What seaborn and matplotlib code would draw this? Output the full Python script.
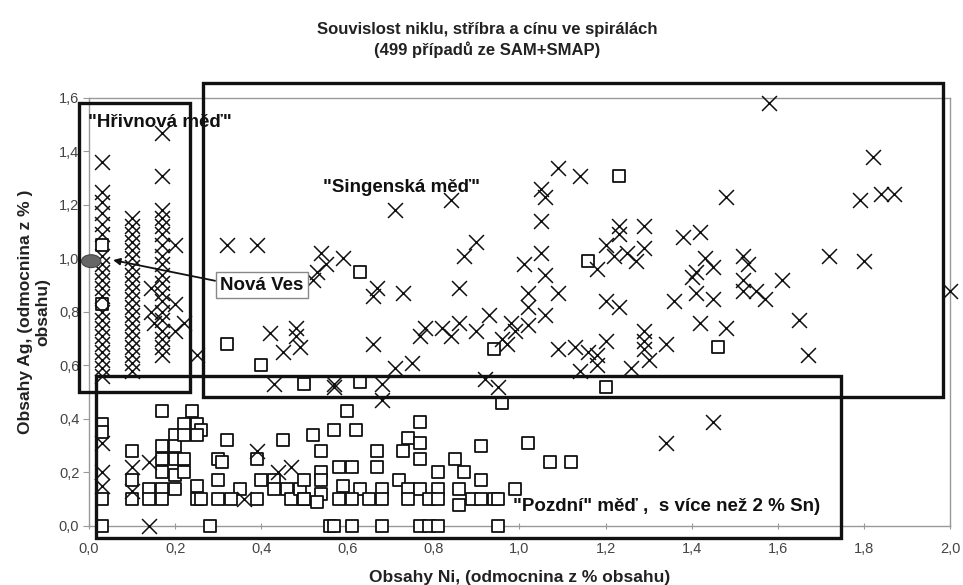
import matplotlib
matplotlib.use("Agg")
import matplotlib.pyplot as plt
from matplotlib.patches import Rectangle, Ellipse
import seaborn as sns
import pandas as pd

# hodnoty (odmocnina z % obsahu)
krizky = [
    # sloupce "Hrivnova med"
    (0.03, 1.36), (0.03, 1.25), (0.03, 1.21), (0.03, 1.17), (0.03, 1.13), (0.03, 1.09),
    (0.03, 1.01), (0.03, 0.98), (0.03, 0.95), (0.03, 0.92), (0.03, 0.89), (0.03, 0.86),
    (0.03, 0.80), (0.03, 0.77), (0.03, 0.74), (0.03, 0.71), (0.03, 0.68), (0.03, 0.65),
    (0.03, 0.62), (0.03, 0.59), (0.03, 0.56),
    (0.10, 1.15), (0.10, 1.12), (0.10, 1.09), (0.10, 1.06), (0.10, 1.03), (0.10, 1.00),
    (0.10, 0.97), (0.10, 0.94), (0.10, 0.91), (0.10, 0.88), (0.10, 0.85), (0.10, 0.82),
    (0.10, 0.79), (0.10, 0.76), (0.10, 0.73), (0.10, 0.70), (0.10, 0.67), (0.10, 0.64),
    (0.10, 0.61), (0.10, 0.58),
    (0.17, 1.47), (0.17, 1.31), (0.17, 1.18), (0.17, 1.15), (0.17, 1.12), (0.17, 1.09),
    (0.17, 1.05), (0.17, 1.01), (0.17, 0.98), (0.17, 0.94), (0.17, 0.91), (0.17, 0.87),
    (0.17, 0.84), (0.17, 0.80), (0.17, 0.77), (0.17, 0.73), (0.17, 0.70), (0.17, 0.67),
    (0.17, 0.64),
    (0.20, 1.05), (0.20, 0.83), (0.20, 0.73), (0.145, 0.89), (0.145, 0.80), (0.15, 0.76),
    (0.22, 0.76), (0.25, 0.64),
    # "Singenska med"
    (0.32, 1.05), (0.39, 1.05), (0.71, 1.18), (0.54, 1.02), (0.59, 1.00), (0.55, 0.98),
    (0.53, 0.95), (0.52, 0.92), (0.67, 0.89), (0.66, 0.86), (0.73, 0.87), (0.87, 1.01),
    (0.86, 0.89), (0.90, 1.06), (0.84, 1.22),
    (0.42, 0.72), (0.45, 0.65), (0.48, 0.74), (0.48, 0.71), (0.49, 0.67), (0.66, 0.68),
    (0.71, 0.59), (0.75, 0.61), (0.78, 0.74), (0.77, 0.71), (0.82, 0.74), (0.84, 0.71),
    (0.86, 0.76), (0.90, 0.73),
    (0.43, 0.53), (0.57, 0.53), (0.68, 0.53), (0.68, 0.47), (0.57, 0.52), (0.95, 0.52),
    (0.92, 0.55),
    (1.09, 1.34), (1.14, 1.31), (1.48, 1.23), (1.05, 1.26), (1.06, 1.23), (1.05, 1.14),
    (1.05, 1.02), (1.01, 0.98), (1.06, 0.94), (1.09, 0.87), (1.02, 0.87), (1.02, 0.82),
    (0.93, 0.79), (0.98, 0.76), (0.99, 0.73), (1.02, 0.75), (1.06, 0.79), (0.97, 0.68),
    (0.96, 0.70),
    (1.09, 0.66), (1.13, 0.67), (1.16, 0.65), (1.18, 0.64), (1.20, 0.69), (1.14, 0.58),
    (1.18, 0.60), (1.26, 0.59), (1.29, 0.73), (1.29, 0.69), (1.29, 0.66), (1.30, 0.62),
    (1.34, 0.68),
    (1.18, 0.96), (1.20, 1.05), (1.23, 1.12), (1.29, 1.12), (1.23, 1.09), (1.22, 1.01),
    (1.25, 1.02), (1.29, 1.04), (1.27, 0.99), (1.20, 0.84), (1.23, 0.82), (1.36, 0.84),
    (1.38, 1.08), (1.42, 1.10), (1.40, 0.93), (1.41, 0.95), (1.43, 1.00), (1.45, 0.97),
    (1.41, 0.87), (1.45, 0.85), (1.42, 0.76), (1.48, 0.74), (1.52, 1.01), (1.53, 0.98),
    (1.52, 0.92), (1.52, 0.88), (1.55, 0.88), (1.57, 0.85),
    (1.58, 1.58), (1.82, 1.38), (1.79, 1.22), (1.84, 1.24), (1.87, 1.24), (1.72, 1.01),
    (1.80, 0.99), (1.61, 0.92), (1.65, 0.77), (1.67, 0.64), (2.00, 0.88),
    # dole
    (1.34, 0.31), (1.45, 0.39), (0.14, 0.24), (0.03, 0.20), (0.03, 0.31), (0.03, 0.15),
    (0.10, 0.22), (0.10, 0.13), (0.39, 0.28), (0.36, 0.10), (0.44, 0.20), (0.47, 0.22),
    (0.14, 0.00),
]

ctverce = [
    (0.03, 1.05), (0.03, 0.83), (0.32, 0.68), (0.40, 0.60), (0.63, 0.95), (0.50, 0.53),
    (0.63, 0.54), (0.96, 0.46), (0.94, 0.66), (1.16, 0.99), (1.23, 1.31), (1.20, 0.52),
    (1.46, 0.67),
    (0.03, 0.38), (0.03, 0.35), (0.03, 0.10), (0.03, 0.00), (0.10, 0.28), (0.10, 0.17),
    (0.10, 0.10), (0.17, 0.43), (0.24, 0.43), (0.14, 0.14), (0.14, 0.10), (0.17, 0.30),
    (0.17, 0.25), (0.17, 0.20), (0.17, 0.14), (0.17, 0.10), (0.20, 0.34), (0.20, 0.30),
    (0.20, 0.25), (0.20, 0.19), (0.20, 0.14), (0.22, 0.38), (0.22, 0.34), (0.22, 0.25),
    (0.22, 0.20), (0.25, 0.38), (0.26, 0.36), (0.25, 0.34), (0.25, 0.15), (0.25, 0.10),
    (0.26, 0.10), (0.28, 0.00), (0.32, 0.32), (0.30, 0.25), (0.31, 0.24), (0.30, 0.17),
    (0.30, 0.10), (0.35, 0.14), (0.33, 0.10), (0.39, 0.25), (0.39, 0.10), (0.45, 0.32),
    (0.40, 0.17), (0.43, 0.17), (0.43, 0.14), (0.46, 0.14), (0.47, 0.10), (0.49, 0.14),
    (0.50, 0.10), (0.56, 0.00),
    (0.60, 0.43), (0.52, 0.34), (0.57, 0.36), (0.62, 0.36), (0.54, 0.28), (0.58, 0.22),
    (0.61, 0.22), (0.67, 0.28), (0.67, 0.22), (0.74, 0.33), (0.77, 0.39), (0.77, 0.31),
    (0.73, 0.28), (0.77, 0.25), (0.91, 0.30), (1.02, 0.31), (1.07, 0.24), (1.12, 0.24),
    (0.85, 0.25), (0.87, 0.20), (0.81, 0.20), (0.91, 0.17), (0.99, 0.14), (0.50, 0.17),
    (0.54, 0.20), (0.54, 0.17), (0.54, 0.12), (0.59, 0.15), (0.63, 0.14), (0.68, 0.14),
    (0.72, 0.17), (0.74, 0.14), (0.77, 0.14), (0.81, 0.14), (0.86, 0.14), (0.50, 0.10),
    (0.53, 0.09), (0.58, 0.10), (0.61, 0.10), (0.65, 0.10), (0.68, 0.10), (0.74, 0.10),
    (0.79, 0.10), (0.81, 0.10), (0.86, 0.08), (0.89, 0.10), (0.91, 0.10), (0.94, 0.10),
    (0.95, 0.10),
    (0.57, 0.00), (0.61, 0.00), (0.68, 0.00), (0.77, 0.00), (0.79, 0.00), (0.81, 0.00),
    (0.95, 0.00),
]

x_ticks = [0.0, 0.2, 0.4, 0.6, 0.8, 1.0, 1.2, 1.4, 1.6, 1.8, 2.0]
y_ticks = [0.0, 0.2, 0.4, 0.6, 0.8, 1.0, 1.2, 1.4, 1.6]

titulek = "Souvislost niklu, stříbra a cínu ve spirálách\n(499 případů ze SAM+SMAP)"
popis_x = "Obsahy Ni, (odmocnina z % obsahu)"
popis_y = "Obsahy Ag, (odmocnina z % )\nobsahu)"

df_x = pd.DataFrame(krizky, columns=["ni", "ag"])
df_s = pd.DataFrame(ctverce, columns=["ni", "ag"])

sns.set_theme(style="white")
plt.rcParams["font.family"] = ["Liberation Sans", "DejaVu Sans"]

fig = plt.figure(figsize=(9.63, 5.85), dpi=100)
ax = fig.add_axes([0.0924, 0.1009, 0.8941, 0.7316])

sns.scatterplot(data=df_s, x="ni", y="ag", marker="s", s=80, color="white",
                edgecolor="#111111", linewidth=1.3, clip_on=False, ax=ax, zorder=3)
sns.scatterplot(data=df_x, x="ni", y="ag", marker="x", s=115, color="#111111",
                linewidth=1.1, clip_on=False, ax=ax, zorder=4)

ax.set_xlim(0, 2.0)
ax.set_ylim(0, 1.6)
ax.set_xticks(x_ticks)
ax.set_yticks(y_ticks)
ax.set_xticklabels([f"{v:.1f}".replace(".", ",") for v in x_ticks])
ax.set_yticklabels([f"{v:.1f}".replace(".", ",") for v in y_ticks])
ax.tick_params(axis="y", direction="out", length=4, width=0.8, color="#999999",
               labelsize=10.5, labelcolor="#444444", pad=3, left=True)
ax.tick_params(axis="x", direction="inout", length=5, width=0.8, color="#999999",
               labelsize=10.5, labelcolor="#444444", pad=9, bottom=True)
for sp in ax.spines.values():
    sp.set_color("#999999")
    sp.set_linewidth(1.0)

ax.set_xlabel(popis_x, fontsize=12.5, fontweight="bold", color="#222222", labelpad=10)
ax.set_ylabel(popis_y, fontsize=12.5, fontweight="bold", color="#222222", labelpad=6)
fig.text(0.506, 0.932, titulek, ha="center", va="center", fontsize=12,
         fontweight="bold", color="#222222", linespacing=1.35)

# ramecky skupin
ramecky = [(-0.023, 0.501, 0.258, 1.080), (0.265, 0.482, 1.719, 1.174),
           (0.016, -0.045, 1.731, 0.606)]
for (x0, y0, w, h) in ramecky:
    ax.add_patch(Rectangle((x0, y0), w, h, fill=False, edgecolor="#111111",
                           linewidth=2.4, clip_on=False, zorder=6))

ax.text(-0.002, 1.51, '"Hřivnová měď"', fontsize=13.5, fontweight="bold",
        color="#111111", va="center", ha="left", zorder=7)
ax.text(0.544, 1.264, '"Singenská měď"', fontsize=13.5, fontweight="bold",
        color="#111111", va="center", ha="left", zorder=7)
ax.text(0.985, 0.071, '"Pozdní" měď ,  s více než 2 % Sn)', fontsize=13.5,
        fontweight="bold", color="#111111", va="center", ha="left", zorder=7)

ax.add_patch(Ellipse((0.005, 0.99), 0.045, 0.048, facecolor="#666666",
                     edgecolor="#444444", linewidth=0.8, clip_on=False, zorder=8))
ax.annotate("Nová Ves", xy=(0.056, 0.994), xytext=(0.305, 0.90),
            fontsize=13.5, fontweight="bold", color="#111111", va="center", ha="left",
            bbox=dict(boxstyle="square,pad=0.25", facecolor="white", edgecolor="#888888",
                      linewidth=1.0),
            arrowprops=dict(arrowstyle="-|>", color="#111111", lw=1.3,
                            mutation_scale=10, relpos=(0, 0.7), shrinkA=0, shrinkB=0),
            zorder=9)

fig.savefig("out.png", dpi=100, facecolor="white")
